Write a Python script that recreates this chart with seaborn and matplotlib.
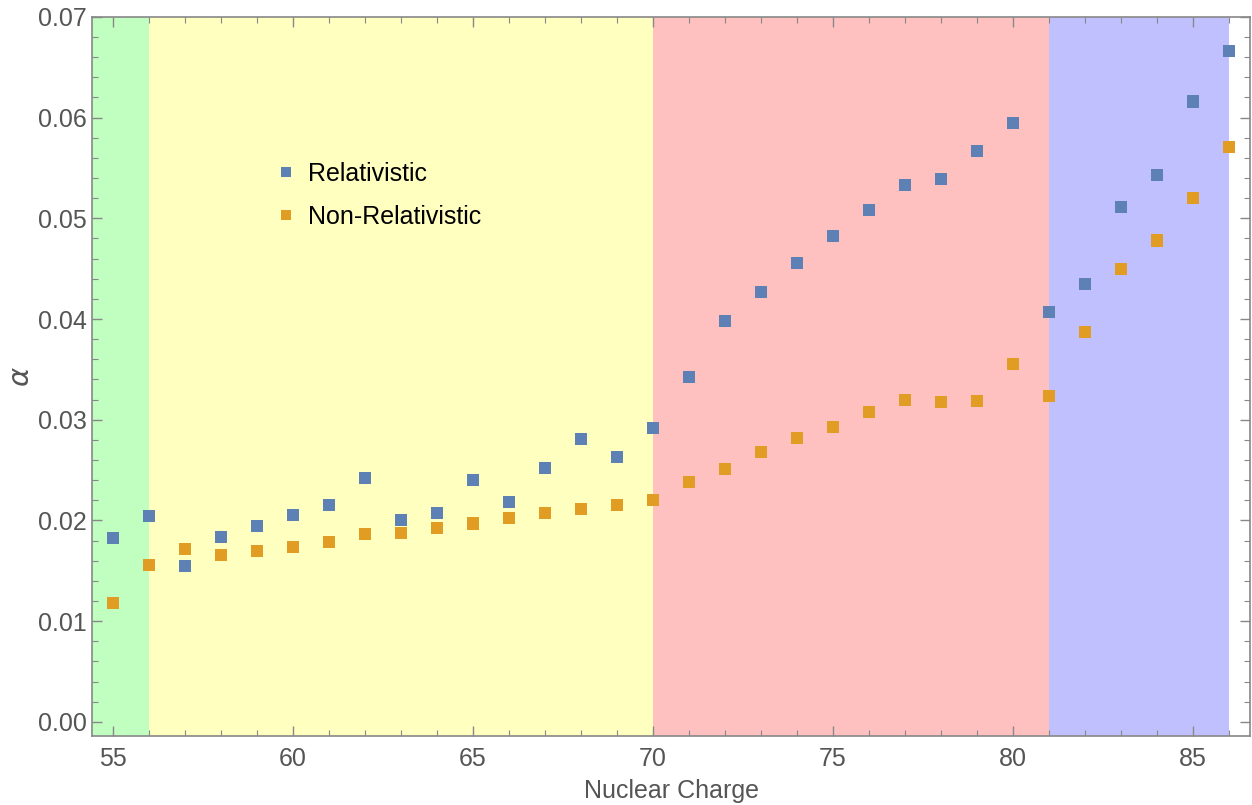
import matplotlib
matplotlib.use("Agg")
import matplotlib.pyplot as plt
from matplotlib.ticker import MultipleLocator
import pandas as pd
import seaborn as sns

# nuclear charge Z
charge = list(range(55, 87))

relativistic = [0.0183, 0.0204, 0.0155, 0.0184, 0.0195, 0.0205, 0.0215, 0.0242,
                0.0200, 0.0207, 0.0240, 0.0218, 0.0252, 0.0281, 0.0263, 0.0292,
                0.0342, 0.0398, 0.0427, 0.0456, 0.0482, 0.0508, 0.0533, 0.0539,
                0.0567, 0.0595, 0.0407, 0.0435, 0.0511, 0.0543, 0.0616, 0.0666]

non_relativistic = [0.0118, 0.0156, 0.0172, 0.0166, 0.0170, 0.0174, 0.0179, 0.0187,
                    0.0188, 0.0193, 0.0197, 0.0202, 0.0207, 0.0211, 0.0215, 0.0220,
                    0.0238, 0.0251, 0.0268, 0.0282, 0.0293, 0.0308, 0.0320, 0.0318,
                    0.0319, 0.0355, 0.0324, 0.0387, 0.0450, 0.0478, 0.0520, 0.0571]

series_names = ["Relativistic", "Non-Relativistic"]
series_colors = ["#5E81B5", "#E19C24"]

# shaded regions along Z
band_edges = [54.42, 56, 70, 81, 86]
band_colors = ["#C0FFC0", "#FFFFC0", "#FFC0C0", "#C0C0FF"]

df = pd.DataFrame({
    "Z": charge * 2,
    "alpha": relativistic + non_relativistic,
    "kind": [series_names[0]] * len(charge) + [series_names[1]] * len(charge),
})

sns.set_style("ticks")
plt.rcParams["font.family"] = ["Liberation Sans", "DejaVu Sans"]

gray = "#888888"
txt = "#555555"

fig = plt.figure(figsize=(12.52, 8.05), dpi=100)
ax = fig.add_axes([0.0735, 0.0857, 0.925, 0.8933])

for lo, hi, c in zip(band_edges[:-1], band_edges[1:], band_colors):
    ax.axvspan(lo, hi, color=c, lw=0, zorder=0)

sns.scatterplot(data=df, x="Z", y="alpha", hue="kind", palette=series_colors,
                marker="s", s=75, linewidth=0, ax=ax, zorder=3)

ax.set_xlim(54.42, 86.58)
ax.set_ylim(-0.0014, 0.070)

ax.xaxis.set_major_locator(MultipleLocator(5))
ax.xaxis.set_minor_locator(MultipleLocator(1))
ax.yaxis.set_major_locator(MultipleLocator(0.01))
ax.yaxis.set_minor_locator(MultipleLocator(0.002))
ax.yaxis.set_major_formatter(matplotlib.ticker.FormatStrFormatter("%.2f"))

ax.tick_params(which="both", direction="in", top=True, right=True,
               color=gray, labelcolor=txt, labelsize=18)
ax.tick_params(which="major", length=7, width=1)
ax.tick_params(which="minor", length=4, width=0.8)
ax.tick_params(axis="x", pad=8)
ax.tick_params(axis="y", pad=4)

for sp in ax.spines.values():
    sp.set_color(gray)
    sp.set_linewidth(1.2)

ax.set_xlabel("Nuclear Charge", fontsize=18, color=txt, labelpad=6)
ax.set_ylabel(r"$\alpha$", fontsize=21, color=txt)
ax.yaxis.set_label_coords(-0.049, 0.5)

leg = ax.legend(loc="center left", bbox_to_anchor=(0.1456, 0.752), frameon=False,
                fontsize=18, handlelength=1.0, handletextpad=0.4,
                labelspacing=0.76, borderpad=0, markerscale=0.8,
                labelcolor="black")

fig.savefig("out.png", dpi=100)
